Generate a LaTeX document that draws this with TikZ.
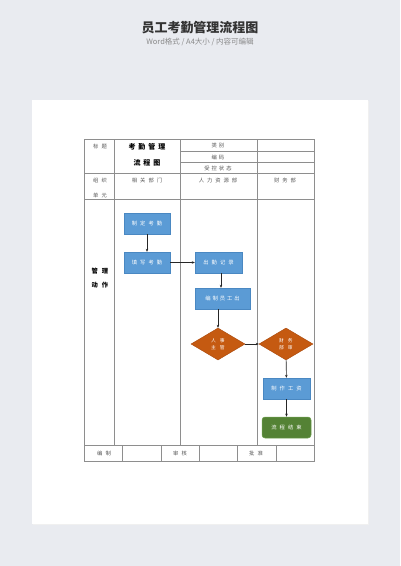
\documentclass[tikz,border=0pt]{standalone}
\usepackage{fontspec}
\setmainfont{Noto Sans CJK SC}
\newfontfamily\cjk{Noto Sans CJK SC}
\usetikzlibrary{shapes.geometric,arrows.meta}
\definecolor{bgc}{HTML}{E9EBF0}
\definecolor{linec}{HTML}{8E8E8E}
\definecolor{boxblue}{HTML}{5B9BD5}
\definecolor{boxblueb}{HTML}{4A88C2}
\definecolor{diaor}{HTML}{C55A11}
\definecolor{diaorb}{HTML}{A9480B}
\definecolor{endgreen}{HTML}{548235}
\definecolor{endgreenb}{HTML}{70A050}
\definecolor{titc}{HTML}{333333}
\definecolor{subc}{HTML}{8A8A8A}
\definecolor{cellt}{HTML}{555555}
\tikzset{
  tline/.style={draw=linec,line width=0.5pt},
  celltext/.style={font=\fontsize{5.3}{6}\selectfont,text=cellt,inner sep=0pt},
  headtext/.style={font=\fontsize{7}{8}\selectfont\bfseries,text=black,inner sep=0pt},
  bluebox/.style={draw=boxblueb,fill=boxblue,line width=0.4pt,minimum width=46pt,minimum height=21pt,inner sep=0pt,text=white,font=\fontsize{5.3}{6}\selectfont},
  orangedia/.style={diamond,draw=diaorb,fill=diaor,line width=0.4pt,minimum width=54pt,minimum height=32pt,aspect=1.69,inner sep=0pt,text=white,font=\fontsize{4.8}{5.5}\selectfont,align=center},
  greenbox/.style={draw=endgreenb,fill=endgreen,line width=0.5pt,rounded corners=3pt,minimum width=49pt,minimum height=21pt,inner sep=0pt,text=white,font=\fontsize{5.3}{6}\selectfont},
  flowarrow/.style={draw=black!85,line width=0.6pt,-{Stealth[length=3pt,width=2.5pt]}}
}
\begin{document}
\begin{tikzpicture}[x=1pt,y=-1pt]
\useasboundingbox (0,0) rectangle (400,566);
\fill[bgc] (0,0) rectangle (400,566);
\fill[black!6] (33,101) rectangle (369,525);
\fill[white] (32,100) rectangle (368,524);
\node[font=\fontsize{13}{15}\selectfont\bfseries,text=titc] (title) at (200,28) {员工考勤管理流程图};
\node[font=\fontsize{7.5}{8.5}\selectfont,text=subc] (subtitle) at (200,42) {Word格式 / A4大小 / 内容可编辑};
% table outline
\draw[tline] (84,139) rectangle (314,461);
\draw[tline] (114,139) -- (114,445);
\draw[tline] (180,139) -- (180,445);
\draw[tline] (257,139) -- (257,445);
\draw[tline] (180,151) -- (314,151);
\draw[tline] (180,162) -- (314,162);
\draw[tline] (84,173) -- (314,173);
\draw[tline] (84,199) -- (314,199);
\draw[tline] (84,445) -- (314,445);
\foreach \x in {122,161,199,237,276} {\draw[tline] (\x,445) -- (\x,461);}
% header texts
\node[celltext] (tbt) at (100,146) {标\hspace{3pt}题};
\node[headtext] (kqgl) at (147,147) {考\hspace{3pt}勤\hspace{3pt}管\hspace{3pt}理};
\node[headtext] (lct) at (147,163) {流\hspace{3pt}程\hspace{3pt}图};
\node[celltext] (lb) at (218,145.5) {类\hspace{2pt}别};
\node[celltext] (bm) at (218,157) {编\hspace{2pt}码};
\node[celltext] (skzt) at (218,168) {受\hspace{2pt}控\hspace{2pt}状\hspace{2pt}态};
\node[celltext] (zz) at (100,180) {组\hspace{3pt}织};
\node[celltext] (dy) at (100,195) {单\hspace{3pt}元};
\node[celltext] (xgbm) at (147,180) {相\hspace{3pt}关\hspace{3pt}部\hspace{3pt}门};
\node[celltext] (rlzy) at (218,180) {人\hspace{3pt}力\hspace{3pt}资\hspace{3pt}源\hspace{3pt}部};
\node[celltext] (cwb) at (285,180) {财\hspace{3pt}务\hspace{3pt}部};
\node[headtext,font=\fontsize{6.3}{7}\selectfont\bfseries] (gl) at (100,271) {管\hspace{4pt}理};
\node[headtext,font=\fontsize{6.3}{7}\selectfont\bfseries] (dz) at (100,285) {动\hspace{4pt}作};
\node[celltext] (bz) at (104,453) {编\hspace{3pt}制};
\node[celltext] (sh) at (180,453) {审\hspace{3pt}核};
\node[celltext] (pz) at (256,453) {批\hspace{3pt}准};
% flow nodes
\node[bluebox] (zdkq) at (147,223.5) {制\hspace{3pt}定\hspace{3pt}考\hspace{3pt}勤};
\node[bluebox] (txkq) at (147,262.5) {填\hspace{3pt}写\hspace{3pt}考\hspace{3pt}勤};
\node[bluebox,minimum width=47pt] (cqjl) at (218.5,262.5) {出\hspace{3pt}勤\hspace{3pt}记\hspace{3pt}录};
\node[bluebox,minimum width=55pt] (bzyg) at (222.5,298.5) {编\hspace{2pt}制\hspace{2pt}员\hspace{2pt}工\hspace{2pt}出};
\node[orangedia] (rszg) at (218,344) {人\hspace{4pt}事\\[1pt]主\hspace{4pt}管};
\node[orangedia] (cwbs) at (286,344) {财\hspace{4pt}务\\[1pt]部\hspace{4pt}审};
\node[bluebox,minimum width=47pt] (zzgz) at (286.5,388.5) {制\hspace{3pt}作\hspace{3pt}工\hspace{3pt}资};
\node[greenbox] (lcjs) at (286.5,427.5) {流\hspace{3pt}程\hspace{3pt}结\hspace{3pt}束};
% connectors
\draw[flowarrow] (zdkq) -- (txkq);
\draw[flowarrow] (txkq) -- (cqjl);
\draw[flowarrow] ([xshift=2.5pt]cqjl.south) -- ([xshift=2.5pt]cqjl.south |- bzyg.north);
\draw[flowarrow] (rszg.north |- bzyg.south) -- (rszg.north);
\draw[flowarrow] (rszg) -- (cwbs);
\draw[flowarrow] (cwbs) -- (zzgz);
\draw[flowarrow] (zzgz) -- (lcjs);
\end{tikzpicture}
\end{document}
